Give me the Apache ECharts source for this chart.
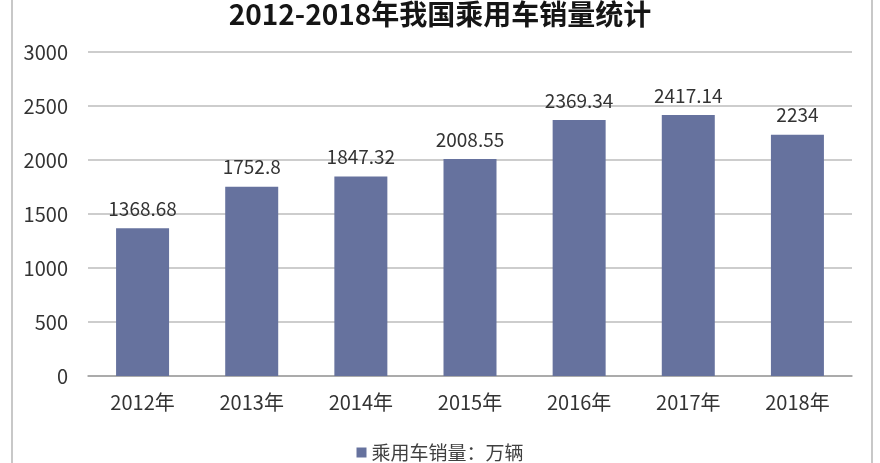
<!DOCTYPE html>
<html><head><meta charset="utf-8">
<script src="https://cdn.jsdelivr.net/npm/echarts@6/dist/echarts.min.js"></script>
<style>
html,body{margin:0;padding:0;background:#fff;}
#frame{position:absolute;left:11px;top:0;width:858px;height:463px;border-left:2px solid #c8c8c8;border-right:2px solid #c8c8c8;}
#c{position:absolute;left:0;top:0;width:880px;height:463px;}
</style></head>
<body>
<div id="frame"></div>
<div id="c"></div>
<script>
const titleText = '2012-2018年我国乘用车销量统计';
const seriesName = '乘用车销量：万辆';
const categories = ['2012年','2013年','2014年','2015年','2016年','2017年','2018年'];
const sales = [1368.68, 1752.8, 1847.32, 2008.55, 2369.34, 2417.14, 2234];
const yMin = 0, yMax = 3000, yStep = 500;

const chart = echarts.init(document.getElementById('c'), null, {renderer:'canvas'});
const font = '"Noto Sans CJK SC","Noto Sans",sans-serif';
chart.setOption({
  animation:false,
  textStyle:{fontFamily:font},
  title:{text:titleText,left:'center',top:-5,
    textStyle:{fontSize:28,fontWeight:'bold',color:'#151515',fontFamily:font}},
  legend:{bottom:-4,left:'center',itemWidth:10,itemHeight:10,itemGap:6,icon:'rect',
    textStyle:{fontSize:19,color:'#404040',fontFamily:font},data:[seriesName]},
  grid:{left:88,right:28,top:52,bottom:87,containLabel:false},
  xAxis:{type:'category',data:categories,
    axisLine:{lineStyle:{color:'#a0a0a0',width:1.5}},axisTick:{show:false},
    axisLabel:{fontSize:20,color:'#333',margin:16,fontFamily:font}},
  yAxis:{type:'value',min:yMin,max:yMax,interval:yStep,
    axisLine:{show:false},axisTick:{show:false},
    splitLine:{lineStyle:{color:'#bdbdbd',width:1.5}},
    axisLabel:{fontSize:20,color:'#333',margin:20,fontFamily:font,
      formatter:function(v){return String(v);}}},
  series:[{name:seriesName,type:'bar',data:sales,barWidth:53,
    itemStyle:{color:'#66729e'},
    label:{show:true,position:'top',distance:10,fontSize:19,color:'#333',fontFamily:font}}]
});
</script>
</body></html>
